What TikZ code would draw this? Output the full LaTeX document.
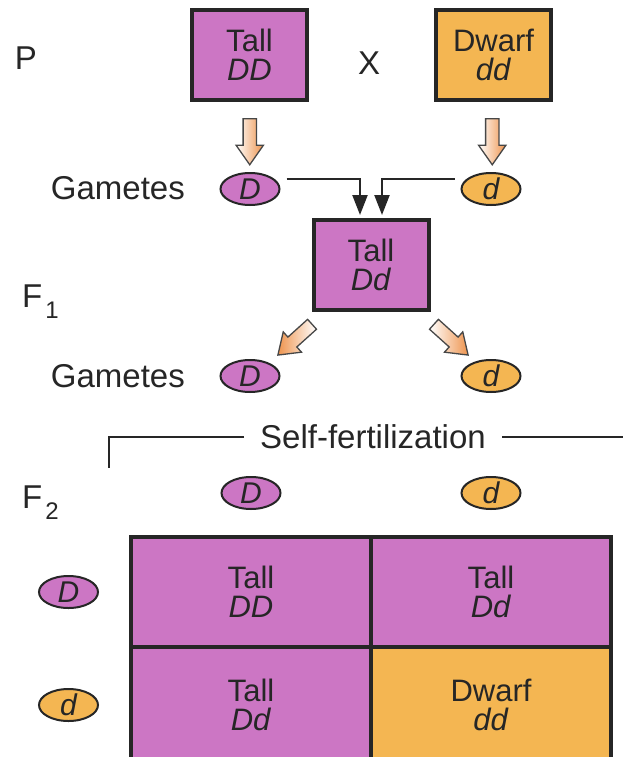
\documentclass[tikz,border=0pt]{standalone}
\usepackage{fontspec}
\setmainfont{Liberation Sans}
\usetikzlibrary{positioning,calc,shapes.geometric,shapes.arrows,arrows.meta}

\definecolor{tallpink}{RGB}{204,118,196}
\definecolor{dwarforange}{RGB}{244,182,82}
\definecolor{inkgray}{RGB}{38,38,38}
\definecolor{arroworange}{RGB}{238,148,78}

\tikzset{
  plant/.style={draw=inkgray, line width=4pt, minimum width=115pt, minimum height=90pt,
    align=center, font=\fontsize{31}{29}\selectfont, text=inkgray},
  tall/.style={plant, fill=tallpink},
  dwarf/.style={plant, fill=dwarforange},
  cell/.style={plant, outer sep=0pt, minimum width=240pt, minimum height=110pt},
  gamete/.style={ellipse, draw=inkgray, line width=2pt, minimum width=59pt, minimum height=32pt,
    inner sep=0pt, font=\fontsize{30}{30}\selectfont\itshape, text=inkgray},
  gentext/.style={inner sep=0pt, font=\fontsize{33}{33}\selectfont, text=inkgray},
  gamarrow/.style={single arrow, draw=inkgray!85, line width=1.3pt, left color=white,
    right color=arroworange, minimum height=46pt, single arrow head extend=7pt,
    single arrow tip angle=70, inner xsep=0pt, inner ysep=6pt},
  link/.style={draw=inkgray, line width=2.2pt},
}

\newcommand{\gen}[1]{F\kern3pt\raisebox{-11pt}{\fontsize{24}{24}\selectfont #1}}

\begin{document}
\begin{tikzpicture}[x=1pt, y=-1pt]
  \useasboundingbox (0,0) rectangle (623,757);
  \fill[white] (0,0) rectangle (623,757);

  % parents
  \node[gentext] (P) at (26,58) {P};
  \node[tall] (pTall) at (249.5,55) {Tall\\\textit{DD}};
  \node[gentext] (cross) at (369,63) {X};
  \node[dwarf] (pDwarf) at (493.5,55) {Dwarf\\\textit{dd}};

  % first gametes
  \node[gentext, anchor=east] (gam1) at (185,188) {Gametes};
  \node[gamete, fill=tallpink] (gD1) at (250,189) {D};
  \node[gamete, fill=dwarforange] (gd1) at (491,189) {d};
  \node[gamarrow, rotate=-90] (aTall) at ($(pTall.south)!0.5!(gD1.north)$) {};
  \node[gamarrow, rotate=-90] (aDwarf) at ($(pDwarf.south)!0.5!(gd1.north)$) {};

  % F1
  \node[tall] (f1) at (371,265) {Tall\\\textit{Dd}};
  \node[gentext, anchor=base west] (F1) at (22,307) {\gen{1}};
  \draw[link, -{Triangle[length=20pt,width=15pt]}]
    ([xshift=6pt,yshift=10pt]gD1.east) -| ([xshift=-11pt,yshift=3pt]f1.north);
  \draw[link, -{Triangle[length=20pt,width=15pt]}]
    ([xshift=-6pt,yshift=10pt]gd1.west) -| ([xshift=11pt,yshift=3pt]f1.north);

  % second gametes
  \node[gentext, anchor=east] (gam2) at (185,376) {Gametes};
  \node[gamete, fill=tallpink] (gD2) at (250,376) {D};
  \node[gamete, fill=dwarforange] (gd2) at (491,376) {d};
  \node[gamarrow, left color=arroworange, right color=white, rotate=-138] (aF1D) at (298.5,336.5) {};
  \node[gamarrow, rotate=-42] (aF1d) at (447.5,336.5) {};

  % self-fertilization
  \node[gentext, inner xsep=16pt] (selff) at (373,437) {Self-fertilization};
  \coordinate (sfCorner) at (109,468);
  \coordinate (sfEnd) at (623,437);
  \draw[link, line width=2pt] (selff.west) -| (sfCorner);
  \draw[link, line width=2pt] (selff.east) -- (sfEnd);

  % F2 Punnett square
  \node[gentext, anchor=base west] (F2) at (22,508) {\gen{2}};
  \node[cell, fill=tallpink] (cDD) at (251,592) {Tall\\\textit{DD}};
  \node[cell, fill=tallpink, right=0pt of cDD] (cDd) {Tall\\\textit{Dd}};
  \node[cell, fill=tallpink, minimum height=116pt, below=0pt of cDD] (cdD) {Tall\\\textit{Dd}};
  \node[cell, fill=dwarforange, minimum height=116pt, below=0pt of cDd] (cdd) {Dwarf\\\textit{dd}};
  \node[gamete, fill=tallpink, above=27pt of cDD] (colD) {D};
  \node[gamete, fill=dwarforange, above=27pt of cDd] (cold) {d};
  \node[gamete, fill=tallpink, left=32pt of cDD] (rowD) {D};
  \node[gamete, fill=dwarforange, left=32pt of cdD] (rowd) {d};
\end{tikzpicture}
\end{document}
